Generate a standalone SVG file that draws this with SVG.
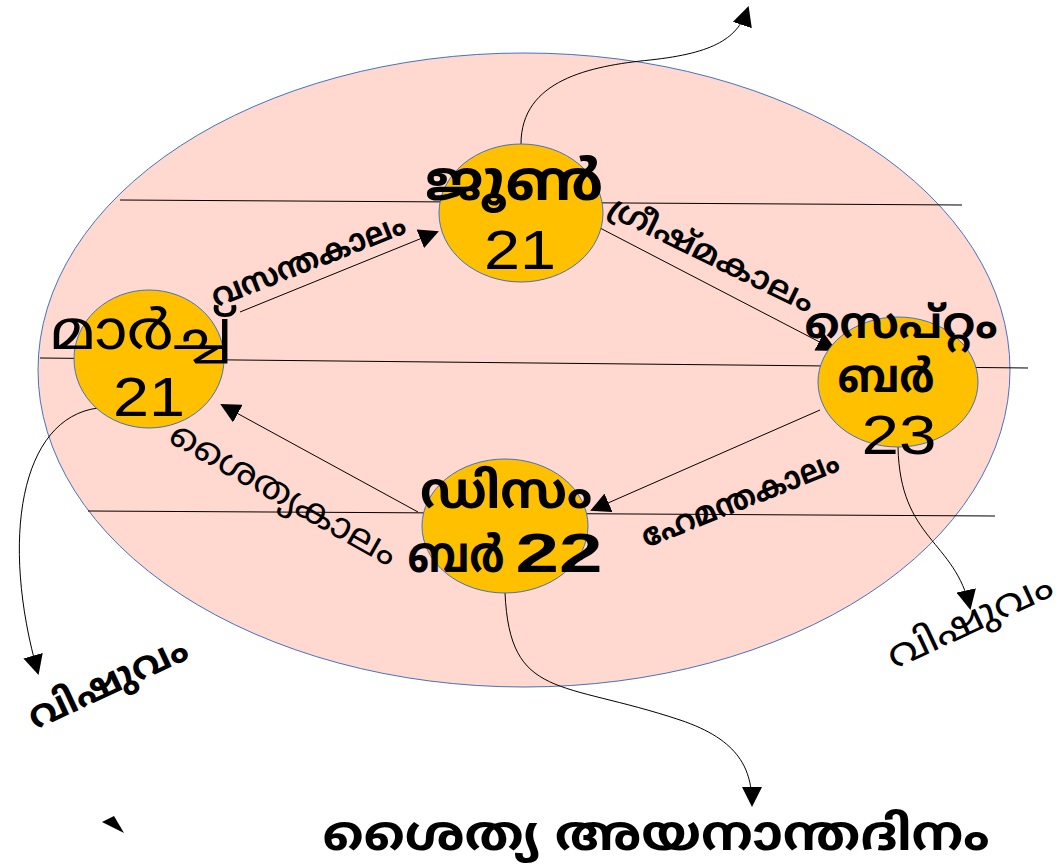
<svg xmlns="http://www.w3.org/2000/svg" width="1063" height="867" viewBox="0 0 1063 867">
<style>
.ml{font-family:"Noto Sans Malayalam","Noto Sans","DejaVu Sans",sans-serif;fill:#000}
.b{font-weight:bold}
.num{font-family:"Liberation Sans",Arial,sans-serif;fill:#000}
.node{fill:#FFC000;stroke:#4472C4;stroke-width:1}
.ln{stroke:#000;stroke-width:1;fill:none}
</style>
<defs>
<marker id="ahb" viewBox="0 0 10 10" refX="9" refY="5" markerWidth="20" markerHeight="20" markerUnits="userSpaceOnUse" orient="auto">
<path d="M0,0 L10,5 L0,10 z" fill="#000"/>
</marker>
</defs>
<rect width="1063" height="867" fill="#fff"/>
<g id="orbit">
<ellipse cx="524" cy="370" rx="486" ry="317" fill="#FFD9CF" stroke="#4472C4" stroke-width="1"/>
</g>
<g id="connectors">
<line class="ln" x1="120" y1="200" x2="962" y2="205"/>
<line class="ln" x1="40" y1="358" x2="1028" y2="368"/>
<line class="ln" x1="88" y1="511" x2="995" y2="516"/>
<line class="ln" x1="240" y1="312" x2="437" y2="232" marker-end="url(#ahb)"/>
<line class="ln" x1="600" y1="228" x2="835" y2="350" marker-end="url(#ahb)"/>
<line class="ln" x1="820" y1="410" x2="592" y2="510" marker-end="url(#ahb)"/>
<line class="ln" x1="418" y1="512" x2="222" y2="405" marker-end="url(#ahb)"/>
<path class="ln" d="M521,144 C521,80 590,66 650,60 C715,53 738,38 748,8" marker-end="url(#ahb)"/>
<path class="ln" d="M98,408 C20,418 0,540 38,673" marker-end="url(#ahb)"/>
<path class="ln" d="M898,447 C900,540 955,540 970,608" marker-end="url(#ahb)"/>
<path class="ln" d="M505,593 C510,700 560,680 680,720 C740,740 752,770 752,805" marker-end="url(#ahb)"/>
<path d="M102,822 L114,816 L124,833 z" fill="#000"/>
</g>
<g id="june">
<ellipse class="node" cx="521" cy="213" rx="82" ry="69"/>
<text class="ml b" x="514" y="200" font-size="56" text-anchor="middle" textLength="178" lengthAdjust="spacingAndGlyphs">ജൂൺ</text>
<text class="num" x="520" y="269" font-size="56" text-anchor="middle" textLength="72" lengthAdjust="spacingAndGlyphs">21</text>
</g>
<g id="march">
<ellipse class="node" cx="149" cy="359" rx="75" ry="69"/>
<text class="ml" x="141" y="349" font-size="54" text-anchor="middle" textLength="182" lengthAdjust="spacingAndGlyphs">മാർച്ച്</text>
<text class="num" x="149" y="416" font-size="55" text-anchor="middle" textLength="72" lengthAdjust="spacingAndGlyphs">21</text>
</g>
<g id="september">
<ellipse class="node" cx="898" cy="382" rx="80" ry="65"/>
<text class="ml b" x="901" y="338" font-size="44" text-anchor="middle" textLength="193" lengthAdjust="spacingAndGlyphs">സെപ്റ്റം</text>
<text class="ml b" x="886" y="392" font-size="46" text-anchor="middle" textLength="97" lengthAdjust="spacingAndGlyphs">ബർ</text>
<text class="num" x="899" y="454" font-size="55" text-anchor="middle" textLength="75" lengthAdjust="spacingAndGlyphs">23</text>
</g>
<g id="december">
<ellipse class="node" cx="505" cy="526" rx="83" ry="67"/>
<text class="ml b" x="506" y="508" font-size="50" text-anchor="middle" textLength="172" lengthAdjust="spacingAndGlyphs">ഡിസം</text>
<text class="ml b" x="456" y="572" font-size="50" text-anchor="middle" textLength="97" lengthAdjust="spacingAndGlyphs">ബർ</text>
<text class="num b" x="559" y="572" font-size="56" text-anchor="middle" textLength="87" lengthAdjust="spacingAndGlyphs">22</text>
</g>
<g id="labels">
<text class="ml b" font-size="32" text-anchor="middle" textLength="206" lengthAdjust="spacingAndGlyphs" transform="translate(312,270) rotate(-21.5)">വസന്തകാലം</text>
<text class="ml" font-size="32" font-weight="600" text-anchor="middle" textLength="225" lengthAdjust="spacingAndGlyphs" transform="translate(707,264) rotate(26)">ഗ്രീഷ്മകാലം</text>
<text class="ml b" font-size="32" text-anchor="middle" textLength="210" lengthAdjust="spacingAndGlyphs" transform="translate(744,509) rotate(-21.8)">ഹേമന്തകാലം</text>
<text class="ml" font-size="36" text-anchor="middle" textLength="255" lengthAdjust="spacingAndGlyphs" transform="translate(278,504) rotate(29.5)">ശൈത്യകാലം</text>
<text class="ml b" font-size="38" text-anchor="middle" textLength="172" lengthAdjust="spacingAndGlyphs" transform="translate(113,694) rotate(-25)">വിഷുവം</text>
<text class="ml" font-size="38" text-anchor="middle" textLength="178" lengthAdjust="spacingAndGlyphs" transform="translate(975,632) rotate(-25)">വിഷുവം</text>
<text class="ml b" font-size="48" text-anchor="middle" textLength="667" lengthAdjust="spacingAndGlyphs" x="656" y="850">ശൈത്യ അയനാന്തദിനം</text>
</g>
</svg>
